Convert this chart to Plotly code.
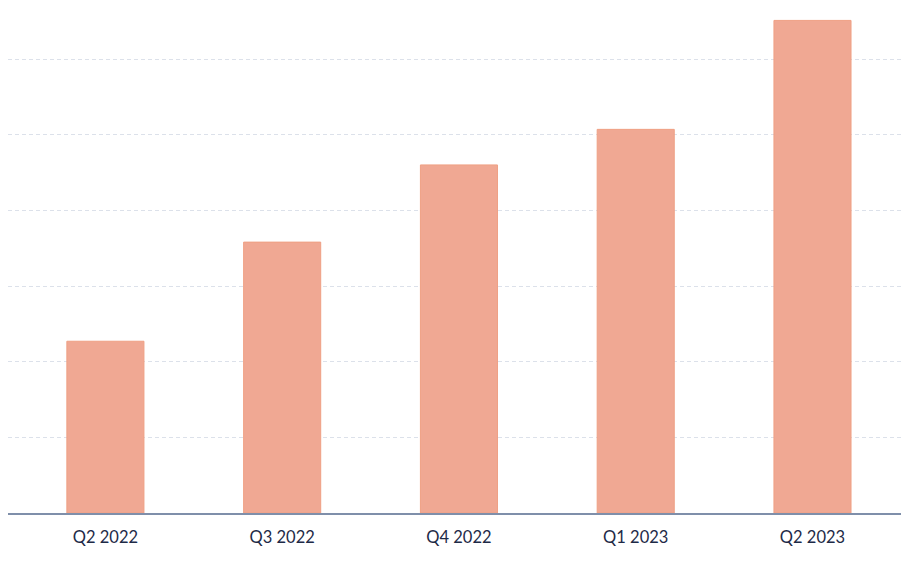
import plotly.graph_objects as go

quarters = ["Q2 2022", "Q3 2022", "Q4 2022", "Q1 2023", "Q2 2023"]
values = [2.27, 3.58, 4.60, 5.07, 6.51]

bar_color = "#F0A893"
text_color = "#1E2A47"

fig = go.Figure()
fig.add_trace(go.Bar(
    x=quarters,
    y=values,
    width=0.436,
    marker=dict(color=bar_color, line=dict(color="#EFA084", width=1)),
))

# page body adds an 8px offset, so the margins are trimmed to suit
fig.update_layout(
    width=909,
    height=566,
    margin=dict(l=0, r=8, t=0, b=61),
    plot_bgcolor="white",
    paper_bgcolor="white",
    showlegend=False,
    font=dict(family="Lato, 'Noto Sans', sans-serif", size=16, color=text_color),
)
fig.update_xaxes(
    range=[-0.551, 4.546],
    showline=True,
    linecolor="#7F8FAA",
    linewidth=1.5,
    showgrid=False,
    ticks="",
    ticklabelstandoff=8,
    tickfont=dict(size=16.5, color=text_color),
)
fig.update_yaxes(
    range=[0, 6.674],
    dtick=1,
    showticklabels=False,
    showgrid=True,
    gridcolor="#DCE1EA",
    griddash="4px,3px",
    gridwidth=1,
    zeroline=False,
)

fig.write_html("out.html")
